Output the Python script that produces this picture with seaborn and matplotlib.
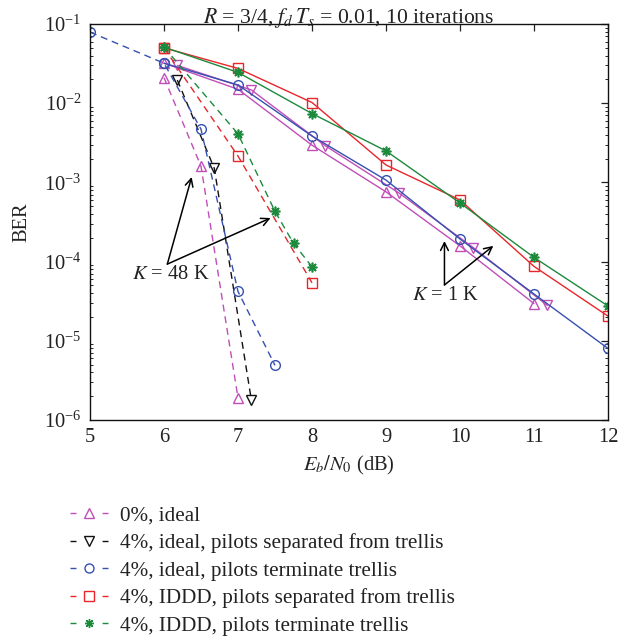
import numpy as np
import pandas as pd
import seaborn as sns
import matplotlib
matplotlib.use("Agg")
import matplotlib.pyplot as plt
from matplotlib.lines import Line2D
from matplotlib.ticker import LogLocator, NullFormatter, FixedLocator

# ---- data: BER vs Eb/N0 (dB) ----
# K = 48 K (dashed curves)
x_ideal0_48k = [6.0, 6.5, 7.0]
ber_ideal0_48k = [2.1e-2, 1.6e-3, 1.9e-6]
x_ideal_sep_48k = [6.18, 6.68, 7.18]
ber_ideal_sep_48k = [1.96e-2, 1.5e-3, 1.8e-6]
x_ideal_term_48k = [5.0, 6.0, 6.5, 7.0, 7.5]
ber_ideal_term_48k = [7.9e-2, 3.2e-2, 4.7e-3, 4.2e-5, 4.9e-6]
x_iddd_sep_48k = [6.0, 7.0, 8.0]
ber_iddd_sep_48k = [5.0e-2, 2.15e-3, 5.4e-5]
x_iddd_term_48k = [6.0, 7.0, 7.5, 7.75, 8.0]
ber_iddd_term_48k = [5.1e-2, 4.1e-3, 4.3e-4, 1.7e-4, 8.6e-5]

# K = 1 K (solid curves)
x_ideal0_1k = [6, 7, 8, 9, 10, 11]
ber_ideal0_1k = [3.2e-2, 1.5e-2, 2.95e-3, 7.6e-4, 1.58e-4, 2.95e-5]
x_ideal_sep_1k = [6.18, 7.18, 8.18, 9.18, 10.18, 11.18]
ber_ideal_sep_1k = [3.0e-2, 1.47e-2, 2.9e-3, 7.3e-4, 1.5e-4, 2.8e-5]
x_1k = [6, 7, 8, 9, 10, 11, 12]
ber_ideal_term_1k = [3.2e-2, 1.7e-2, 3.85e-3, 1.07e-3, 1.93e-4, 3.9e-5, 8.0e-6]
ber_iddd_sep_1k = [5.0e-2, 2.75e-2, 1.02e-2, 1.66e-3, 6.0e-4, 8.7e-5, 2.05e-5]
ber_iddd_term_1k = [5.1e-2, 2.45e-2, 7.4e-3, 2.5e-3, 5.5e-4, 1.13e-4, 2.75e-5]

legend_labels = [
    "0%, ideal",
    "4%, ideal, pilots separated from trellis",
    "4%, ideal, pilots terminate trellis",
    "4%, IDDD, pilots separated from trellis",
    "4%, IDDD, pilots terminate trellis",
]

x_ticks = [5, 6, 7, 8, 9, 10, 11, 12]

# ---- styling ----
sns.set_theme(style="white")
plt.rcParams["font.family"] = ["Liberation Serif", "DejaVu Serif"]
plt.rcParams["mathtext.fontset"] = "stix"

MAG = "#c04eb8"
BLK = "#111111"
BLU = "#3650b0"
RED = "#e8262a"
GRN = "#1c8a3c"
TXT = "#222222"
DASH = (0, (5, 3.5))
FS = 14.8
LW = 1.0

fig = plt.figure(figsize=(6.19, 6.38), dpi=100)
ax = fig.add_axes([90 / 619, 1 - 420 / 638, (608 - 90) / 619, (420 - 24) / 638])

def draw(x, y, color, marker, ls, mfc="none", ms=7, mew=1.0):
    df = pd.DataFrame({"x": x, "y": y})
    sns.lineplot(data=df, x="x", y="y", ax=ax, color=color, lw=LW,
                 linestyle=ls, marker=marker, markersize=ms,
                 markerfacecolor=mfc, markeredgecolor=color,
                 markeredgewidth=mew, sort=False, legend=False)

# K = 1 K, solid
draw(x_ideal0_1k, ber_ideal0_1k, MAG, "^", "-")
draw(x_ideal_sep_1k, ber_ideal_sep_1k, MAG, "v", "-")
draw(x_1k, ber_ideal_term_1k, BLU, "o", "-")
draw(x_1k, ber_iddd_sep_1k, RED, "s", "-", ms=6.5)
draw(x_1k, ber_iddd_term_1k, GRN, (8, 2, 0), "-", mfc=GRN, ms=7, mew=1.2)

# K = 48 K, dashed
draw(x_ideal0_48k, ber_ideal0_48k, MAG, "^", DASH)
draw(x_ideal_sep_48k, ber_ideal_sep_48k, BLK, "v", DASH)
draw(x_ideal_term_48k, ber_ideal_term_48k, BLU, "o", DASH)
draw(x_iddd_sep_48k, ber_iddd_sep_48k, RED, "s", DASH, ms=6.5)
draw(x_iddd_term_48k, ber_iddd_term_48k, GRN, (8, 2, 0), DASH, mfc=GRN, ms=7, mew=1.2)

ax.set_yscale("log")
ax.set_xlim(5, 12)
ax.set_ylim(1e-6, 1e-1)
ax.xaxis.set_major_locator(FixedLocator(x_ticks))
ax.yaxis.set_major_locator(LogLocator(base=10, numticks=10))
ax.yaxis.set_minor_locator(LogLocator(base=10, subs=np.arange(2, 10), numticks=10))
ax.yaxis.set_minor_formatter(NullFormatter())
ax.tick_params(axis="both", which="major", direction="in", length=5, width=0.9,
               top=True, right=True, labelsize=FS, pad=6, colors=TXT)
ax.tick_params(axis="y", which="minor", direction="in", length=2.5, width=0.7,
               left=True, right=True)
for s in ax.spines.values():
    s.set_color("#111111")
    s.set_linewidth(1.0)

ax.set_xlabel("$E_b/N_0$ (dB)", fontsize=FS, labelpad=5, color=TXT)
ax.set_ylabel("BER", fontsize=FS, labelpad=9, color=TXT)
ax.set_title("$R$ = 3/4, $f_d\\,T_s$ = 0.01, 10 iterations", fontsize=15.6,
             pad=1, color=TXT)

# annotations
arrow_kw = dict(arrowstyle="->", color="black", lw=1.1, shrinkA=0, shrinkB=0,
                mutation_scale=14)
v48 = (6.045, 9.3e-5)
ax.annotate("", xy=(6.374, 1.17e-3), xytext=v48, arrowprops=arrow_kw)
ax.annotate("", xy=(7.44, 3.55e-4), xytext=v48, arrowprops=arrow_kw)
ax.text(6.095, 6.9e-5, "$K$ = 48 K", fontsize=FS, ha="center", va="center",
        color=TXT)
v1 = (9.79, 5.07e-5)
ax.annotate("", xy=(9.79, 1.82e-4), xytext=v1, arrowprops=arrow_kw)
ax.annotate("", xy=(10.45, 1.58e-4), xytext=v1, arrowprops=arrow_kw)
ax.text(9.81, 3.7e-5, "$K$ = 1 K", fontsize=FS, ha="center", va="center",
        color=TXT)

# legend below the axes: short dash, marker, short dash
leg_style = [(MAG, "^", "none"), (BLK, "v", "none"), (BLU, "o", "none"),
             (RED, "s", "none"), (GRN, (8, 2, 0), GRN)]
handles = [Line2D([], [], color=c, lw=LW, linestyle=(0, (4.3, 18.8)), marker=m,
                  markersize=6.5, markerfacecolor=f, markeredgecolor=c)
           for c, m, f in leg_style]
fig.legend(handles, legend_labels, loc="upper left",
           bbox_to_anchor=(70 / 619, 1 - 506 / 638), frameon=False,
           fontsize=15.2, handlelength=1.8, handletextpad=0.55,
           labelspacing=0.36, borderaxespad=0, borderpad=0, labelcolor=TXT)

fig.savefig("out.png", dpi=100)
